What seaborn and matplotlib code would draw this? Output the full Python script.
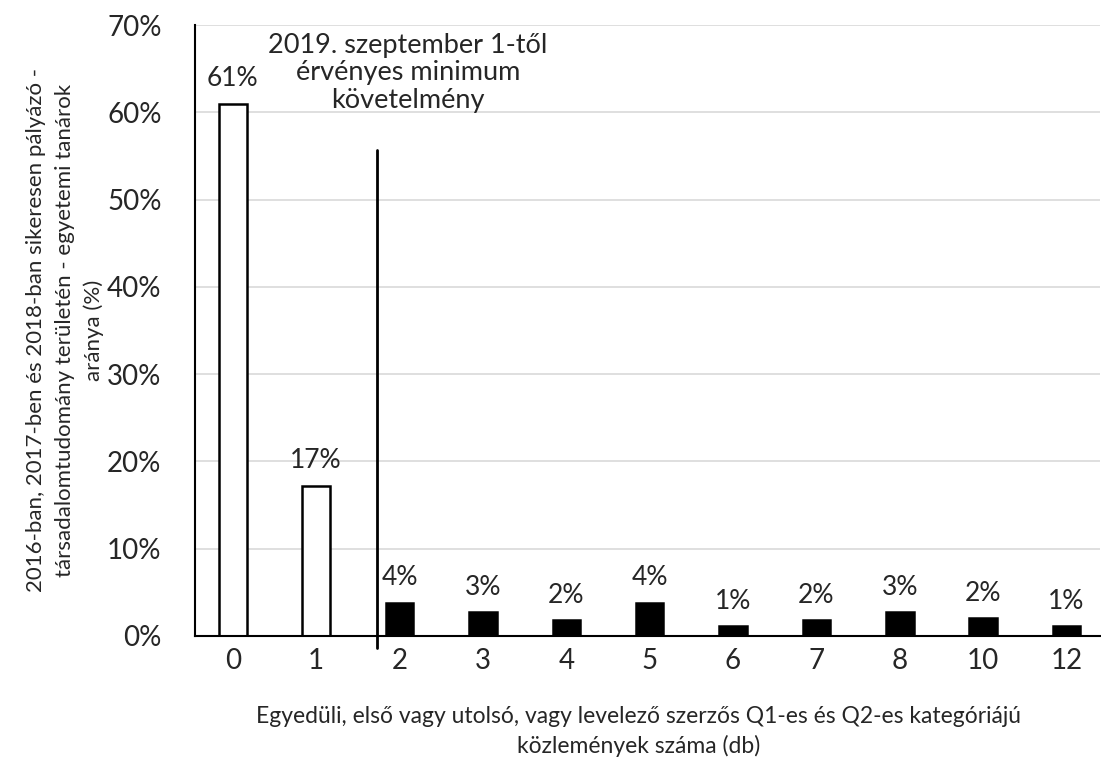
import pandas as pd
import seaborn as sns
import matplotlib.pyplot as plt

# Number of Q1/Q2 publications (categories) and share of applicants (%)
categories = ["0", "1", "2", "3", "4", "5", "6", "7", "8", "10", "12"]
shares = [61.0, 17.2, 3.8, 2.7, 1.8, 3.8, 1.1, 1.8, 2.7, 2.0, 1.1]
value_labels = ["61%", "17%", "4%", "3%", "2%", "4%", "1%", "2%", "3%", "2%", "1%"]
meets_minimum = [False, False, True, True, True, True, True, True, True, True, True]

threshold_pos = 1.73   # vertical marker between "1" and "2"
threshold_top = 55.7
note_text = "2019. szeptember 1-től\nérvényes minimum\nkövetelmény"

df = pd.DataFrame({"db": categories, "share": shares, "ok": meets_minimum})

sns.set_style("white")
plt.rcParams["font.family"] = ["Lato", "DejaVu Sans"]

fig = plt.figure(figsize=(11.01, 7.65), dpi=100)
ax = fig.add_axes([0.177, 0.169, 0.822, 0.798])

colors = ["black" if ok else "white" for ok in meets_minimum]
sns.barplot(
    data=df, x="db", y="share", hue="db", order=categories,
    palette=colors, legend=False, width=0.33,
    edgecolor="black", linewidth=1.8, ax=ax,
)

# value labels above bars
for i, (v, lab) in enumerate(zip(shares, value_labels)):
    ax.annotate(lab, (i, v), xytext=(0, 9), textcoords="offset points",
                ha="center", va="bottom", fontsize=19)

# minimum requirement marker
ax.plot([threshold_pos, threshold_pos], [-1.4, threshold_top],
        color="black", linewidth=2, clip_on=False)
ax.text(threshold_pos + 0.37, 69.1, note_text, ha="center", va="top",
        fontsize=19.5, linespacing=1.12)

ax.set_ylim(0, 70)
ax.set_xlim(-0.455, 10.4)
ax.set_yticks(range(0, 71, 10))
ax.set_yticklabels([f"{t}%" for t in range(0, 71, 10)])
ax.tick_params(axis="y", labelsize=20, length=0, pad=24)
ax.tick_params(axis="x", labelsize=20, length=0, pad=9)
ax.yaxis.grid(True, color="#d9d9d9", linewidth=1.2)
ax.set_axisbelow(True)

for side in ["top", "right"]:
    ax.spines[side].set_visible(False)
for side in ["left", "bottom"]:
    ax.spines[side].set_color("black")
    ax.spines[side].set_linewidth(1.5)

ax.set_xlabel("Egyedüli, első vagy utolsó, vagy levelező szerzős Q1-es és Q2-es kategóriájú\nközlemények száma (db)",
              fontsize=16.5, linespacing=1.45)
ax.xaxis.set_label_coords(0.49, -0.115)
ax.set_ylabel("2016-ban, 2017-ben és 2018-ban sikeresen pályázó -\ntársadalomtudomány területén - egyetemi tanárok\naránya (%)",
              fontsize=16, linespacing=1.55)
ax.yaxis.set_label_coords(-0.1, 0.5)

fig.savefig("out.png", dpi=100)
